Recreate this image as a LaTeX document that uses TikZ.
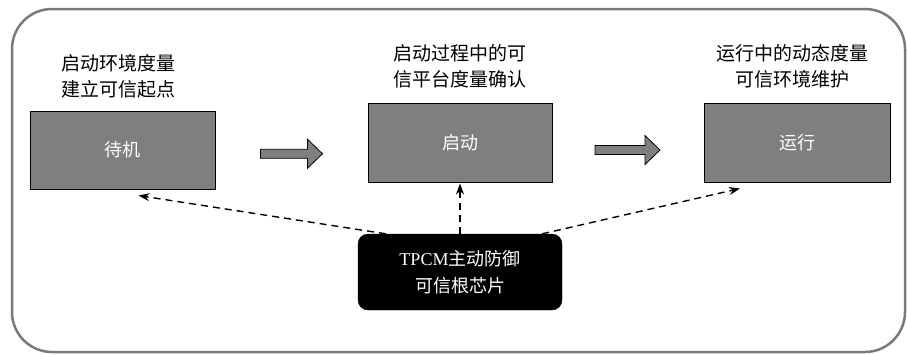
\documentclass[tikz,border=0pt]{standalone}
\usepackage{fontspec}
\setmainfont{Liberation Serif}
\newfontfamily\cjk{Noto Sans CJK SC}
\usetikzlibrary{arrows.meta,calc}
\definecolor{boxgray}{HTML}{7F7F7F}
\definecolor{framegray}{HTML}{7A7A7A}
\tikzset{
  statebox/.style={draw=black, line width=1pt, fill=boxgray, minimum width=185pt, minimum height=78pt, inner sep=0pt, text=white, font=\cjk\fontsize{18}{22}\selectfont},
  toplabel/.style={align=center, inner sep=0pt, font=\cjk\fontsize{19}{26}\selectfont},
  chip/.style={draw=black, fill=black, rounded corners=10pt, minimum width=204pt, minimum height=76pt, inner sep=0pt, text=white, align=center, font=\fontsize{18}{27}\selectfont},
  blockarr/.style={draw=black, line width=0.8pt, fill=boxgray},
  dasharr/.style={line width=1.4pt, dash pattern=on 7pt off 5pt, -{Stealth[length=11pt,width=8pt]}},
  frame/.style={draw=framegray, line width=2.5pt, rounded corners=40pt}
}
\begin{document}
\begin{tikzpicture}[x=1pt, y=-1pt]
\useasboundingbox (0,0) rectangle (907,354);
\draw[frame] (12,9) rectangle (905,352);

\node[statebox] (b1) at (122.5,150) {待机};
\node[statebox, minimum width=184pt, minimum height=79pt] (b2) at (460,142.5) {启动};
\node[statebox, minimum width=186pt, minimum height=79pt] (b3) at (797,142.5) {运行};

\node[toplabel] (l1) at (118,76.5) {启动环境度量\\建立可信起点};
\node[toplabel] (l2) at (460,66) {启动过程中的可\\信平台度量确认};
\node[toplabel] (l3) at (792,66) {运行中的动态度量\\可信环境维护};

\node[chip] (tpcm) at (460,272) {TPCM{\cjk 主动防御}\\{\cjk 可信根芯片}};

\coordinate (m1) at ($(b1.east)!0.5!(b2.west)$);
\coordinate (m2) at ($(b2.east)!0.5!(b3.west)$);
\draw[blockarr, shift={($(m1)+(-31,7.5)$)}] (0,-4.5) -- (47,-4.5) -- (47,-14.5) -- (62,0) -- (47,14.5) -- (47,4.5) -- (0,4.5) -- cycle;
\draw[blockarr, shift={($(m2)+(-33,7.5)$)}] (0,-4.5) -- (50,-4.5) -- (50,-14.5) -- (65,0) -- (50,14.5) -- (50,4.5) -- (0,4.5) -- cycle;

\coordinate (s1) at ($(tpcm.north west)+(28,0)$);
\coordinate (t1) at ($(b1.south)+(16,6)$);
\coordinate (s3) at ($(tpcm.north east)+(-20,0)$);
\coordinate (t3) at ($(b3.south)+(-57,6)$);
\draw[dasharr] (s1) -- (t1);
\draw[dasharr] (tpcm.north) -- ($(b2.south)+(0,1)$);
\draw[dasharr] (s3) -- (t3);
\end{tikzpicture}
\end{document}
